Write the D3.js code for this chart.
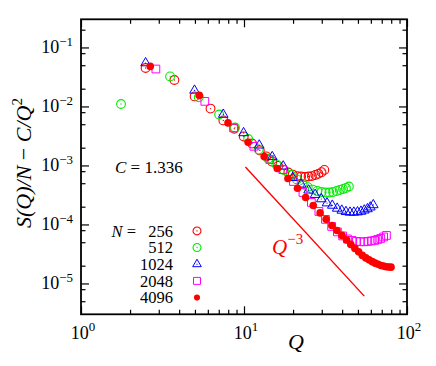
<!DOCTYPE html>
<html>
<head>
<meta charset="utf-8">
<script src="https://cdn.jsdelivr.net/npm/d3@7"></script>
<style>
  html, body { margin: 0; padding: 0; background: #fff; }
  svg text { font-family: "Liberation Serif", "Times New Roman", serif; fill: #000; }
</style>
</head>
<body>
<div id="chart"></div>
<script>
// S(Q)/N - C/Q^2 for several system sizes
const q256 = [2.49, 3.74, 4.98, 6.23, 7.47, 8.72, 9.96, 11.2, 12.5, 13.7, 14.9, 16.2, 17.4, 18.7, 19.9, 21.2, 22.4, 23.7, 24.9, 26.1, 27.4, 28.6, 29.9, 31.1];
const s256 = [0.0448, 0.0281, 0.0148, 0.0092, 0.0058, 0.0042, 0.0031, 0.00235, 0.0018, 0.00142, 0.00116, 0.00098, 0.00085, 0.00076, 0.0007, 0.00066, 0.00065, 0.00064, 0.00065, 0.00066, 0.00069, 0.00072, 0.00077, 0.00084];

const q512 = [1.76, 3.52, 5.28, 7.04, 8.8, 10.6, 12.3, 14.1, 15.8, 17.6, 19.4, 21.1, 22.9, 24.6, 26.4, 28.2, 29.9, 31.7, 33.4, 35.2, 37.0, 38.7, 40.5, 42.2, 44.0];
const s512 = [0.011, 0.0323, 0.0143, 0.0073, 0.0044, 0.0028, 0.00186, 0.0013, 0.00104, 0.00084, 0.00069, 0.00058, 0.00049, 0.00043, 0.00039, 0.00037, 0.000355, 0.000348, 0.000348, 0.000355, 0.00037, 0.000384, 0.0004, 0.000415, 0.00044];

const q1024 = [2.49, 4.97, 7.46, 9.94, 12.4, 14.9, 17.4, 19.9, 22.4, 24.9, 27.3, 29.8, 32.3, 34.8, 37.3, 39.8, 42.2, 44.7, 47.2, 49.7, 52.2, 54.7, 57.2, 59.6, 62.1];
const s1024 = [0.0545, 0.0187, 0.0073, 0.00356, 0.0022, 0.0014, 0.00097, 0.00062, 0.00048, 0.00038, 0.00032, 0.00027, 0.00023, 0.00021, 0.000187, 0.000173, 0.000164, 0.00016, 0.00016, 0.000162, 0.000166, 0.000174, 0.000183, 0.000196, 0.000214];

const q2048 = [2.88, 5.75, 8.63, 11.5, 14.4, 17.3, 20.1, 23.0, 25.9, 28.8, 31.6, 34.5, 37.4, 40.3, 43.1, 46.0, 48.9, 51.8, 54.6, 57.5, 60.4, 63.3, 66.1, 69.0, 71.9, 74.8];
const s2048 = [0.0431, 0.0122, 0.00433, 0.00211, 0.00126, 0.00085, 0.000535, 0.000348, 0.000236, 0.000166, 0.000122, 0.0000925, 0.0000747, 0.0000639, 0.0000568, 0.0000536, 0.0000515, 0.0000509, 0.0000509, 0.0000515, 0.0000526, 0.0000536, 0.0000557, 0.0000579, 0.0000614, 0.0000651];

const q4096 = [2.66, 5.32, 7.98, 10.6, 13.3, 16.0, 18.6, 21.3, 23.9, 26.6, 29.3, 31.9, 34.6, 37.2, 39.9, 42.6, 45.2, 47.9, 50.5, 53.2, 55.9, 58.5, 61.2, 63.8, 66.5, 69.2, 71.8, 74.5, 77.1, 79.8];
const s4096 = [0.0477, 0.0154, 0.00526, 0.00247, 0.00142, 0.00089, 0.0006, 0.00041, 0.000286, 0.00021, 0.000157, 0.000122, 0.0000962, 0.0000792, 0.0000652, 0.0000547, 0.0000459, 0.0000393, 0.0000343, 0.0000299, 0.0000271, 0.0000251, 0.0000234, 0.0000221, 0.0000211, 0.0000202, 0.0000197, 0.0000192, 0.000019, 0.0000189];

const sizeLabels = ["256", "512", "1024", "2048", "4096"];

// Q^-3 guide line end points
const guideQ = [10.2, 54.7];
const guideS = [0.00094, 0.0000061];

const xMajor = [1, 10, 100];
const xMinor = [2, 3, 4, 5, 6, 7, 8, 9, 20, 30, 40, 50, 60, 70, 80, 90];
const yMajor = [1e-5, 1e-4, 1e-3, 1e-2, 1e-1];
const yMinor = [5e-6, 8e-6, 2e-5, 5e-5, 8e-5, 2e-4, 5e-4, 8e-4, 2e-3, 5e-3, 8e-3, 2e-2, 5e-2, 8e-2, 2e-1];
const xLabelExp = ["0", "1", "2"];
const yLabelExp = ["−5", "−4", "−3", "−2", "−1"];

const width = 436, height = 366;
const margin = { top: 19.3, right: 29, bottom: 51.7, left: 81 };

const svg = d3.select("#chart").append("svg")
    .attr("width", width)
    .attr("height", height);

const x = d3.scaleLog().domain([1, 100]).range([margin.left, width - margin.right]);
const y = d3.scaleLog().domain([3e-6, 0.3]).range([height - margin.bottom, margin.top]);

const x0 = margin.left, x1 = width - margin.right;
const y0 = height - margin.bottom, y1 = margin.top;

// ticks, pointing inward on all four sides
function ticks(axis, vals, len, transform) {
    const g = svg.append("g")
        .attr("transform", transform)
        .call(axis.tickValues(vals).tickSize(-len).tickFormat(""));
    g.select(".domain").remove();
    g.selectAll("line").attr("stroke", "#000").attr("stroke-width", 1.2);
}
ticks(d3.axisBottom(x), xMajor, 8, `translate(0,${y0})`);
ticks(d3.axisBottom(x), xMinor, 4.5, `translate(0,${y0})`);
ticks(d3.axisTop(x), xMajor, 8, `translate(0,${y1})`);
ticks(d3.axisTop(x), xMinor, 4.5, `translate(0,${y1})`);
ticks(d3.axisLeft(y), yMajor, 8, `translate(${x0},0)`);
ticks(d3.axisLeft(y), yMinor, 4.5, `translate(${x0},0)`);
ticks(d3.axisRight(y), yMajor, 8, `translate(${x1},0)`);
ticks(d3.axisRight(y), yMinor, 4.5, `translate(${x1},0)`);

svg.append("rect")
    .attr("x", x0).attr("y", y1)
    .attr("width", x1 - x0).attr("height", y0 - y1)
    .attr("fill", "none").attr("stroke", "#000").attr("stroke-width", 1.8);

// tick labels with superscript exponents
function powLabel(sel, exp, size) {
    sel.append("tspan").text("10");
    sel.append("tspan").attr("dy", -size * 0.42).attr("font-size", size * 0.72).text(exp);
}
xMajor.forEach((v, i) => {
    svg.append("text")
        .attr("x", x(v) + 2).attr("y", 339)
        .attr("text-anchor", "middle").attr("font-size", 18)
        .call(powLabel, xLabelExp[i], 18);
});
yMajor.forEach((v, i) => {
    svg.append("text")
        .attr("x", 73).attr("y", y(v) + 6)
        .attr("text-anchor", "end").attr("font-size", 18)
        .call(powLabel, yLabelExp[i], 18);
});

// axis titles
svg.append("text")
    .attr("x", 296).attr("y", 349)
    .attr("text-anchor", "middle").attr("font-size", 22).attr("font-style", "italic")
    .text("Q");

const yTitle = svg.append("text")
    .attr("transform", "translate(31,163) rotate(-90)")
    .attr("text-anchor", "middle").attr("font-size", 22).attr("font-style", "italic");
yTitle.append("tspan").text("S(Q)/N");
yTitle.append("tspan").attr("font-style", "normal").text(" − ");
yTitle.append("tspan").text("C/Q");
yTitle.append("tspan").attr("dy", -9).attr("font-size", 15).attr("font-style", "normal").text("2");

// C value
const cText = svg.append("text").attr("x", 115).attr("y", 173).attr("font-size", 17);
cText.append("tspan").attr("font-style", "italic").text("C");
cText.append("tspan").text(" = 1.336");

// Q^-3 guide
svg.append("line")
    .attr("x1", x(guideQ[0])).attr("y1", y(guideS[0]))
    .attr("x2", x(guideQ[1])).attr("y2", y(guideS[1]))
    .attr("stroke", "#ff0000").attr("stroke-width", 1.4);
const gText = svg.append("text").attr("x", 272).attr("y", 254).attr("font-size", 21).attr("fill", "#ff0000");
gText.append("tspan").attr("font-style", "italic").attr("fill", "#ff0000").text("Q");
gText.append("tspan").attr("dy", -10).attr("font-size", 15).attr("fill", "#ff0000").text("−3");

// markers
const series = [
    { q: q256, s: s256, kind: "circle", color: "#ff0000" },
    { q: q512, s: s512, kind: "circle", color: "#00ee00" },
    { q: q1024, s: s1024, kind: "triangle", color: "#0000ff" },
    { q: q2048, s: s2048, kind: "square", color: "#ff00ff" },
    { q: q4096, s: s4096, kind: "dot", color: "#ff0000" }
];

function drawMarker(g, kind, color, scale) {
    if (kind === "circle") {
        g.append("circle").attr("r", 4.4 * scale).attr("fill", "none")
            .attr("stroke", color).attr("stroke-width", 1.1);
        g.append("circle").attr("r", 0.7).attr("fill", color);
    } else if (kind === "triangle") {
        g.append("path").attr("d", d3.symbol(d3.symbolTriangle, 40 * scale * scale)())
            .attr("fill", "none").attr("stroke", color).attr("stroke-width", 1.0);
        g.append("circle").attr("r", 0.6).attr("fill", color);
    } else if (kind === "square") {
        g.append("path").attr("d", d3.symbol(d3.symbolSquare, 60 * scale * scale)())
            .attr("fill", "none").attr("stroke", color).attr("stroke-width", 1.0);
    } else {
        g.append("circle").attr("r", 3.8 * scale).attr("fill", color);
    }
}

series.forEach(sr => {
    const g = svg.append("g");
    sr.q.forEach((q, i) => {
        const m = g.append("g").attr("transform", `translate(${x(q)},${y(sr.s[i])})`);
        drawMarker(m, sr.kind, sr.color, 1);
    });
});

// legend
const legY = [236.7, 253.3, 270, 286.7, 303.4];
svg.append("text").attr("x", 111.5).attr("y", legY[0]).attr("font-size", 16.5)
    .call(t => {
        t.append("tspan").attr("font-style", "italic").text("N");
        t.append("tspan").text(" =");
    });
series.forEach((sr, i) => {
    svg.append("text").attr("x", 173).attr("y", legY[i])
        .attr("text-anchor", "end").attr("font-size", 16.5).text(sizeLabels[i]);
    const m = svg.append("g").attr("transform", `translate(197,${legY[i] - 5.8})`);
    drawMarker(m, sr.kind, sr.color, sr.kind === "dot" ? 0.8 : 0.9);
});
</script>
</body>
</html>
